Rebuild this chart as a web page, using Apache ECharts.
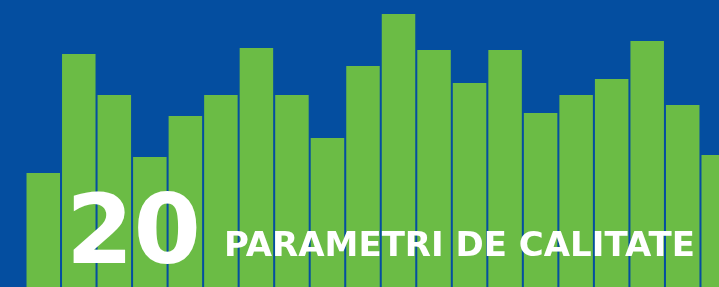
<!DOCTYPE html>
<html lang="ro">
<head>
    <meta charset="UTF-8">
    <title>20 parametri de calitate</title>
    <script src="https://cdn.jsdelivr.net/npm/echarts@6/dist/echarts.min.js"></script>
</head>
<body style="margin: 0; overflow: hidden; background: #044ea0">
    <!-- ultima bara iese din cadru, deci containerul e mai lat decat fereastra -->
    <div id="chart" style="width: 736px; height: 287px;"></div>
    <script>
        // 20 bare, inaltimi
        const categories = ['P1', 'P2', 'P3', 'P4', 'P5', 'P6', 'P7', 'P8', 'P9', 'P10',
            'P11', 'P12', 'P13', 'P14', 'P15', 'P16', 'P17', 'P18', 'P19', 'P20'];
        const values = [114, 233, 192, 130, 171, 192, 239, 192, 149, 221,
            273, 237, 204, 237, 174, 192, 208, 246, 182, 132];
        const bigNumber = '20';
        const caption = 'PARAMETRI DE CALITATE';

        const chart = echarts.init(document.getElementById('chart'));

        chart.setOption({
            backgroundColor: '#044ea0',
            animation: false,
            grid: { left: 25.5, right: 0, top: 0, bottom: 0 },
            xAxis: {
                type: 'category',
                data: categories,
                show: false
            },
            yAxis: {
                type: 'value',
                min: 0,
                max: 287,
                show: false
            },
            series: [{
                type: 'bar',
                data: values,
                barWidth: 33.5,
                itemStyle: { color: '#6bbc45' }
            }],
            graphic: [
                {
                    type: 'text',
                    z: 100,
                    left: 66,
                    top: 189,
                    style: {
                        text: bigNumber,
                        fill: '#ffffff',
                        font: 'bold 97px "DejaVu Sans"'
                    }
                },
                {
                    type: 'text',
                    z: 100,
                    left: 224,
                    top: 230,
                    style: {
                        text: caption,
                        fill: '#ffffff',
                        font: 'bold 34px "DejaVu Sans"'
                    }
                }
            ]
        });
    </script>
</body>
</html>
